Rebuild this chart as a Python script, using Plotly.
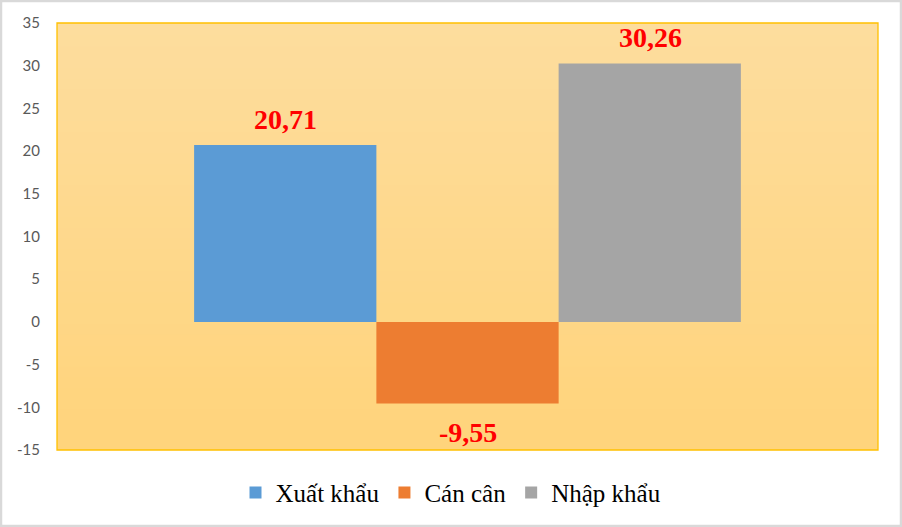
import plotly.graph_objects as go

# du lieu (ty USD)
series_names = ["Xuất khẩu", "Cán cân", "Nhập khẩu"]
series_values = [20.71, -9.55, 30.26]
series_colors = ["#5B9BD5", "#ED7D31", "#A5A5A5"]
category = [""]
y_ticks = [-15, -10, -5, 0, 5, 10, 15, 20, 25, 30, 35]

SERIF = "Times New Roman, Liberation Serif, DejaVu Serif, serif"

fig = go.Figure()
for name, val, col in zip(series_names, series_values, series_colors):
    fig.add_trace(go.Bar(
        x=category, y=[val], name=name,
        marker=dict(color=col, line=dict(width=0)),
    ))

# nhan so lieu mau do, dau phay thap phan
for i, (name, val) in enumerate(zip(series_names, series_values)):
    fig.add_annotation(
        x=category[0], y=val, text=f"{val:.2f}".replace(".", ","),
        showarrow=False, xshift=(i - 1) * 182.5,
        yanchor="bottom" if val >= 0 else "top",
        yshift=8 if val >= 0 else -12,
        font=dict(family=SERIF, size=28, color="#FF0000", weight="bold"),
    )

# nen chuyen mau (gradient) cho vung ve
n = 40
top = (253, 221, 158)
bot = (255, 212, 124)
for k in range(n):
    t = k / (n - 1)
    c = tuple(round(top[j] + (bot[j] - top[j]) * t) for j in range(3))
    fig.add_shape(type="rect", xref="x domain", yref="y domain",
                  x0=0, x1=1, y0=max(0, 1 - (k + 1) / n), y1=min(1, 1 - k / n + 0.02),
                  fillcolor="rgb(%d,%d,%d)" % c, line=dict(width=0), layer="below")
fig.add_shape(type="rect", xref="x domain", yref="y domain", x0=0, x1=1, y0=0, y1=1,
              line=dict(color="#FFC000", width=1.3), layer="above")
# khung ngoai
fig.add_shape(type="rect", xref="paper", yref="paper",
              x0=-56 / 821, x1=1 + 23 / 821, y0=-76 / 427, y1=1 + 22 / 427,
              line=dict(color="#D9D9D9", width=2.5))

fig.update_layout(
    barmode="group", bargap=0.334, bargroupgap=0,
    width=902, height=527,
    margin=dict(l=57, r=24, t=23, b=77),
    paper_bgcolor="white", plot_bgcolor="rgba(0,0,0,0)",
    font=dict(family=SERIF, size=25, color="#000000"),
    showlegend=True,
    legend=dict(orientation="h", xref="container", x=0.5, xanchor="center",
                yref="container", y=0.065, yanchor="middle",
                font=dict(family=SERIF, size=25, color="#000000"),
                traceorder="normal"),
)
fig.update_xaxes(showticklabels=False, showgrid=False, zeroline=False, showline=False,
                 range=[-0.5, 0.5])
fig.update_yaxes(range=[-15, 35], tickvals=y_ticks, ticktext=[str(v) for v in y_ticks],
                 showgrid=False, zeroline=False,
                 showline=False, ticks="", ticklabelstandoff=16,
                 tickfont=dict(family="Lato", size=15, color="#595959"))

fig.write_html("out.html", config={"displayModeBar": False},
               post_script="document.body.style.margin='0';")
